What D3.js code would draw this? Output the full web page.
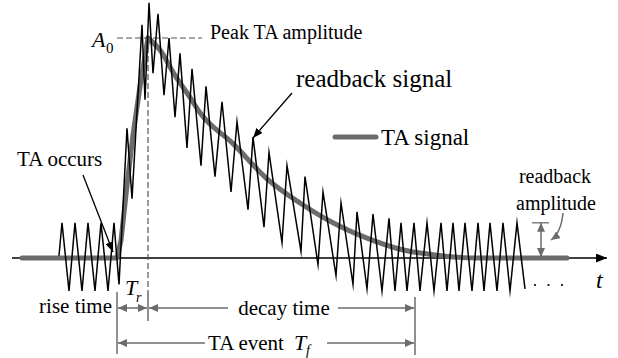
<!DOCTYPE html>
<html>
<head>
<meta charset="utf-8">
<script src="https://cdn.jsdelivr.net/npm/d3@7"></script>
</head>
<body style="margin:0">
<script>
// readback signal vertices: time (arbitrary units, TA onset = 0), amplitude (A0 = 1)
var readT = [-58,-55,-48,-42,-35,-29,-22,-16,-9,-3,2,10,15,25,28,32,36,41,47,52,58,63,70,75,84,89,98,105,114,120,131,136,147,152,165,170,184,188,201,206,219,224,236,240,250,256,265,272,278,284,290,297,303,310,317,324,330,336,342,348,355,361,367,373,380,386,393,400,408];
var readV = [0.01,0.16,-0.15,0.16,-0.15,0.16,-0.15,0.16,-0.15,0.16,-0.12,0.59,0.27,1.06,0.72,1.16,0.84,1.11,0.74,1.00,0.64,0.93,0.50,0.86,0.42,0.78,0.37,0.71,0.30,0.62,0.22,0.55,0.14,0.48,0.07,0.42,0.03,0.37,-0.03,0.30,-0.08,0.25,-0.12,0.21,-0.14,0.20,-0.15,0.18,-0.15,0.16,-0.15,0.16,-0.15,0.16,-0.15,0.16,-0.15,0.16,-0.15,0.16,-0.15,0.16,-0.15,0.16,-0.15,0.16,-0.15,0.16,-0.14];

// TA signal: rise part and decay part
var riseT = [-95,0,4,10,16,23,31];
var riseV = [0,0,0.08,0.33,0.56,0.78,1];
var decayT = [31,43,58,73,83,116,150,183,216,250,283,316,360,450];
var decayV = [1,0.945,0.83,0.73,0.66,0.52,0.36,0.25,0.16,0.09,0.04,0.015,0,0];

// key times
var tAxis = [-105,488];
var tOnset = 0, tPeak = 31, tEnd = 298, tAmp = 424;
var readAmp = 0.16;

var W = 618, H = 358;
var gray = "#6b6b6b";
var serif = "'Liberation Serif', monospace";

var svg = d3.select("body").append("svg")
	.attr("width", W)
	.attr("height", H);

var x = d3.scaleLinear().domain(tAxis).range([12, 605]);
var y = d3.scaleLinear().domain([0, 1]).range([258, 38]);

var defs = svg.append("defs");
function addMarker(id, color, len, wid){
	defs.append("marker")
		.attr("id", id)
		.attr("markerUnits", "userSpaceOnUse")
		.attr("viewBox", "0 0 " + len + " " + wid)
		.attr("markerWidth", len)
		.attr("markerHeight", wid)
		.attr("refX", len)
		.attr("refY", wid / 2)
		.attr("orient", "auto-start-reverse")
		.append("path")
		.attr("d", "M0,0L" + len + "," + (wid / 2) + "L0," + wid + "Z")
		.attr("fill", color);
}
addMarker("ag", gray, 9, 8);
addMarker("ab", "#000", 10, 8);
addMarker("aax", "#000", 11, 9);

function pair(ts, vs){
	return ts.map(function(t, i){ return [t, vs[i]]; });
}

// time axis
svg.append("line")
	.attr("x1", x(tAxis[0])).attr("x2", x(tAxis[1]) + 2)
	.attr("y1", y(0)).attr("y2", y(0))
	.attr("stroke", "#000").attr("stroke-width", 1.5)
	.attr("marker-end", "url(#aax)");

// TA signal
var taLine = d3.line().x(function(d){ return x(d[0]); }).y(function(d){ return y(d[1]); });
svg.append("path")
	.attr("d", taLine(pair(riseT, riseV)))
	.attr("fill", "none").attr("stroke", gray)
	.attr("stroke-width", 5).attr("stroke-linecap", "round").attr("stroke-linejoin", "round");
svg.append("path")
	.attr("d", taLine.curve(d3.curveMonotoneX)(pair(decayT, decayV)))
	.attr("fill", "none").attr("stroke", gray)
	.attr("stroke-width", 5).attr("stroke-linecap", "round").attr("stroke-linejoin", "round");

// dashed guides for the peak
svg.append("line")
	.attr("x1", x(tPeak) - 31).attr("x2", x(tPeak) + 54)
	.attr("y1", y(1)).attr("y2", y(1))
	.attr("stroke", "#555").attr("stroke-width", 1.2).attr("stroke-dasharray", "6,3");
svg.append("line")
	.attr("x1", x(tPeak)).attr("x2", x(tPeak))
	.attr("y1", y(1)).attr("y2", 292)
	.attr("stroke", "#555").attr("stroke-width", 1.2).attr("stroke-dasharray", "6,3");

// readback signal
var rbLine = d3.line().x(function(d){ return x(d[0]); }).y(function(d){ return y(d[1]); });
svg.append("path")
	.attr("d", rbLine(pair(readT, readV)))
	.attr("fill", "none").attr("stroke", "#000")
	.attr("stroke-width", 1.5).attr("stroke-linejoin", "miter").attr("stroke-miterlimit", 10);

// arrows and gray marks
svg.append("line")
	.attr("x1", 292).attr("y1", 93).attr("x2", 253).attr("y2", 138)
	.attr("stroke", "#000").attr("stroke-width", 1.3)
	.attr("marker-end", "url(#ab)");
svg.append("line")
	.attr("x1", 83).attr("y1", 175).attr("x2", x(tOnset) - 4).attr("y2", 252)
	.attr("stroke", "#000").attr("stroke-width", 1.3)
	.attr("marker-end", "url(#ab)");

// legend swatch
svg.append("line")
	.attr("x1", 335).attr("x2", 376).attr("y1", 137).attr("y2", 137)
	.attr("stroke", gray).attr("stroke-width", 5).attr("stroke-linecap", "round");

// readback amplitude marker
var xa = x(tAmp);
svg.append("line")
	.attr("x1", xa - 9).attr("x2", xa + 8).attr("y1", y(readAmp)).attr("y2", y(readAmp))
	.attr("stroke", gray).attr("stroke-width", 1.3);
svg.append("line")
	.attr("x1", xa).attr("x2", xa).attr("y1", y(readAmp)).attr("y2", y(0) - 1)
	.attr("stroke", gray).attr("stroke-width", 1.5)
	.attr("marker-start", "url(#ag)").attr("marker-end", "url(#ag)");
svg.append("path")
	.attr("d", "M563,213Q561,233," + (xa + 10) + ",240")
	.attr("fill", "none").attr("stroke", gray).attr("stroke-width", 1.5)
	.attr("marker-end", "url(#ag)");

// dots after the signal
svg.selectAll(".dot")
	.data([0, 1, 2])
	.enter().append("circle")
	.attr("class", "dot")
	.attr("cx", function(d){ return 535 + d * 13.5; })
	.attr("cy", 285)
	.attr("r", 1.1)
	.attr("fill", "#000");

// dimension lines
var x0 = x(tOnset), x1 = x(tPeak), x2 = x(tEnd);
function tick(px, y1, y2){
	svg.append("line")
		.attr("x1", px).attr("x2", px).attr("y1", y1).attr("y2", y2)
		.attr("stroke", gray).attr("stroke-width", 1.5);
}
tick(x0, 292, 354);
tick(x1, 292, 321);
tick(x2, 297, 355);

// arrow line with a gap left for its label
function dim(xa, xb, yy, gapL, gapR){
	[[gapL, xa + 1], [gapR, xb - 1]].forEach(function(s){
		svg.append("line")
			.attr("x1", s[0]).attr("x2", s[1])
			.attr("y1", yy).attr("y2", yy)
			.attr("stroke", gray).attr("stroke-width", 1.5)
			.attr("marker-end", "url(#ag)");
	});
}
svg.append("line")
	.attr("x1", x0 + 1).attr("x2", x1 - 1).attr("y1", 308).attr("y2", 308)
	.attr("stroke", gray).attr("stroke-width", 1.5)
	.attr("marker-start", "url(#ag)").attr("marker-end", "url(#ag)");
dim(x1, x2, 308, 228, 338);
dim(x0, x2, 343, 205, 327);

// all text labels in one join
var labels = [
	{s: "A", x: 92, y: 47, f: 22, it: true},
	{s: "0", x: 106, y: 53, f: 15},
	{s: "Peak TA amplitude", x: 210, y: 39, f: 20},
	{s: "readback signal", x: 296, y: 87, f: 25},
	{s: "TA occurs", x: 17, y: 166, f: 21},
	{s: "TA signal", x: 381, y: 145, f: 23},
	{s: "readback", x: 555, y: 183, f: 20, a: "middle"},
	{s: "amplitude", x: 556, y: 210, f: 20, a: "middle"},
	{s: "t", x: 596, y: 288, f: 24, it: true},
	{s: "T", x: 125, y: 295, f: 22, it: true},
	{s: "r", x: 136, y: 302, f: 14, it: true},
	{s: "rise time", x: 112, y: 313, f: 21, a: "end"},
	{s: "decay time", x: 284, y: 315, f: 21, a: "middle"},
	{s: "TA event ", x: 208, y: 350, f: 21},
	{s: "T", x: 294, y: 350, f: 22, it: true},
	{s: "f", x: 306, y: 355, f: 14, it: true}
];
svg.selectAll("text.lbl")
	.data(labels)
	.enter().append("text")
	.attr("class", "lbl")
	.attr("x", function(d){ return d.x; })
	.attr("y", function(d){ return d.y; })
	.attr("font-size", function(d){ return d.f; })
	.attr("text-anchor", function(d){ return d.a || "start"; })
	.style("font-family", function(d){ return serif; })
	.style("font-style", function(d){ return d.it ? "italic" : null; })
	.text(function(d){ return d.s; });
</script>
</body>
</html>
